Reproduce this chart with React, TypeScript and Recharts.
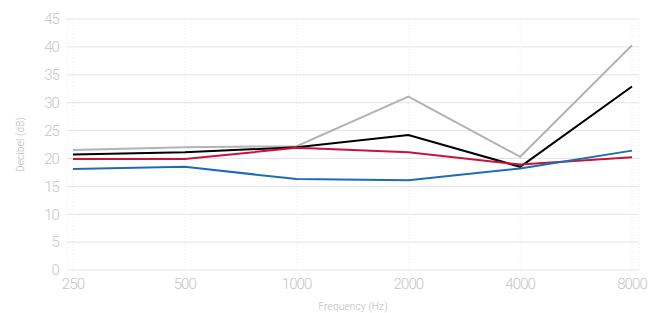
import { LineChart, Line, XAxis, YAxis, CartesianGrid } from "recharts";

const frequencies = ["250", "500", "1000", "2000", "4000", "8000"];
const grayValues = [21.5, 22.0, 22.2, 31.1, 20.3, 40.3];
const blackValues = [20.7, 21.1, 22.0, 24.2, 18.5, 32.9];
const redValues = [19.9, 19.9, 21.9, 21.1, 18.9, 20.2];
const blueValues = [18.1, 18.5, 16.3, 16.1, 18.2, 21.4];
const yTicks = [0, 5, 10, 15, 20, 25, 30, 35, 40, 45];

const data = frequencies.map((f, i) => ({
  freq: f,
  gray: grayValues[i],
  black: blackValues[i],
  red: redValues[i],
  blue: blueValues[i],
}));

const FONT = "Roboto, sans-serif";
const tickStyle = { fontSize: 15, fill: "#c6c6c6", fontFamily: FONT, fontWeight: 300, letterSpacing: -0.9 };
const labelStyle = { fontSize: 10, fill: "#b8b8b8", fontFamily: FONT, fontWeight: 300, letterSpacing: 0.2 };

export default function App() {
  return (
    <div style={{ position: "absolute", left: 0, top: 0, width: 655, height: 313, background: "#fff" }}>
      <LineChart width={655} height={313} data={data} margin={{ top: 19, right: 16, bottom: 0, left: 0 }}>
        <CartesianGrid vertical={false} stroke="#e4e4e4" strokeWidth={1} />
        <CartesianGrid horizontal={false} stroke="#ececec" strokeDasharray="1 2" />
        <XAxis
          dataKey="freq"
          padding={{ left: 6, right: 7 }}
          tickLine={false}
          axisLine={false}
          tick={tickStyle}
          height={43}
          label={{ value: "Frequency (Hz)", position: "insideBottom", offset: 3, style: { ...labelStyle, textAnchor: "middle" } }}
        />
        <YAxis
          domain={[0, 45]}
          ticks={yTicks}
          width={67}
          tickLine={false}
          axisLine={false}
          tick={tickStyle}
          label={{ value: "Decibel (dB)", angle: -90, position: "insideLeft", offset: 20, style: { ...labelStyle, textAnchor: "middle" } }}
        />
        <Line dataKey="gray" stroke="#b3b3b3" strokeWidth={2} dot={false} isAnimationActive={false} />
        <Line dataKey="black" stroke="#000000" strokeWidth={2} dot={false} isAnimationActive={false} />
        <Line dataKey="red" stroke="#c8143c" strokeWidth={2} dot={false} isAnimationActive={false} />
        <Line dataKey="blue" stroke="#1e6db4" strokeWidth={2} dot={false} isAnimationActive={false} />
      </LineChart>
    </div>
  );
}
